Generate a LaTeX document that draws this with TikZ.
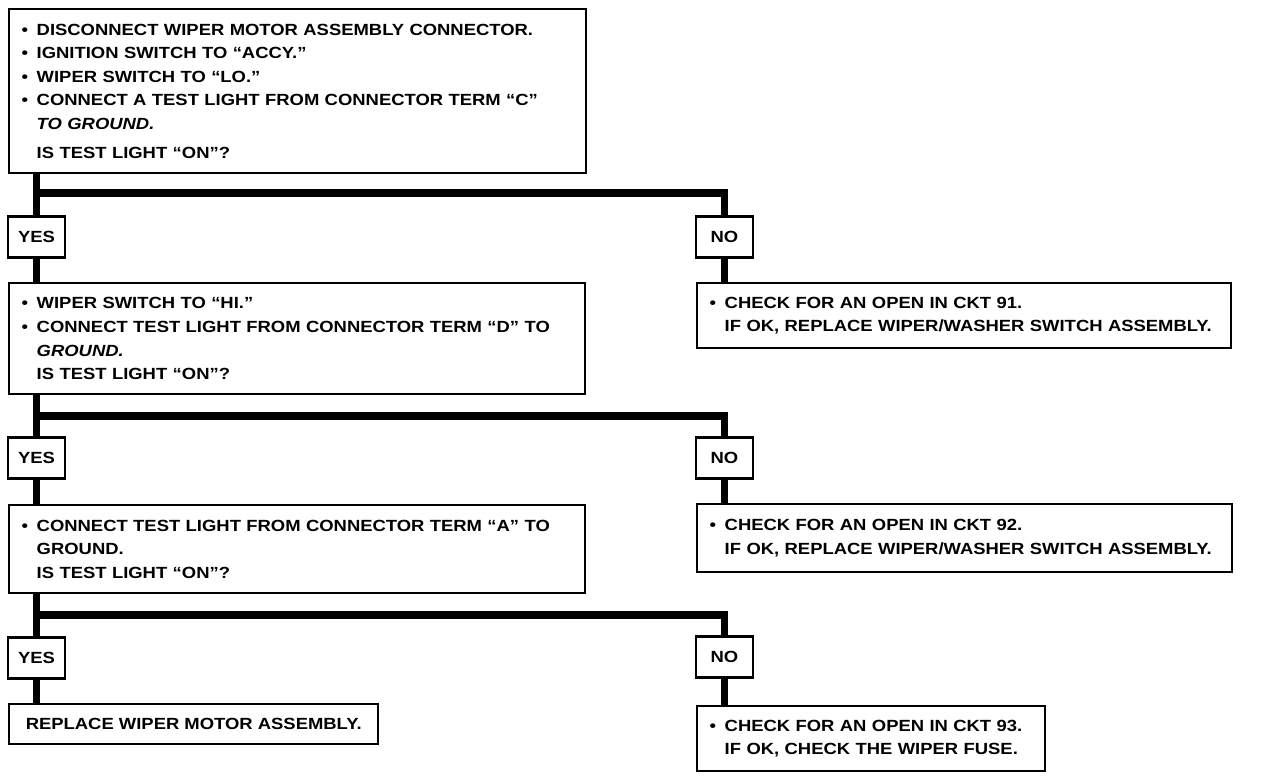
\documentclass[tikz,border=0pt]{standalone}
\usepackage{fontspec}
\setmainfont{Liberation Sans}[FakeStretch=1.14]

\newcommand{\bul}{\makebox[0.3cm][l]{\textbullet}}
\newcommand{\ind}{\hspace*{0.3cm}}

\begin{document}
\begin{tikzpicture}[x=0.2mm,y=-0.2mm,
    every node/.style={font=\fontsize{9.2}{13.4}\selectfont\bfseries},
    qbox/.style={draw,line width=1.4pt,fill=white,anchor=north west,align=left,inner xsep=0.25cm,inner ysep=0pt},
    ans/.style={draw,line width=1.4pt,fill=white,minimum width=1.14cm,minimum height=0.82cm,inner sep=0pt},
    trunk/.style={line width=4.5pt}]

    \useasboundingbox (0,0) rectangle (1264,778);

    \node[qbox,text width=11.04cm,minimum height=3.28cm] (q1) at (8,8)
        {\bul DISCONNECT WIPER MOTOR ASSEMBLY CONNECTOR.\\
         \bul IGNITION SWITCH TO ``ACCY.''\\
         \bul WIPER SWITCH TO ``LO.''\\
         \bul CONNECT A TEST LIGHT FROM CONNECTOR TERM ``C''\\
         \ind\textit{TO GROUND.}\\[3pt]
         \ind IS TEST LIGHT ``ON''?};
    \node[ans] (yes1) at (36.5,237) {YES};
    \node[ans] (no1) at (724.5,237) {NO};
    \node[qbox,text width=11.02cm,minimum height=2.22cm] (q2) at (8,282)
        {\bul WIPER SWITCH TO ``HI.''\\
         \bul CONNECT TEST LIGHT FROM CONNECTOR TERM ``D'' TO\\
         \ind\textit{GROUND.}\\
         \ind IS TEST LIGHT ``ON''?};
    \node[qbox,text width=10.18cm,minimum height=1.3cm] (r1) at (696,282)
        {\bul CHECK FOR AN OPEN IN CKT 91.\\
         \ind IF OK, REPLACE WIPER/WASHER SWITCH ASSEMBLY.};

    \node[ans] (yes2) at (36.5,458) {YES};
    \node[ans] (no2) at (724.5,458) {NO};
    \node[qbox,text width=11.02cm,minimum height=1.76cm] (q3) at (8,504)
        {\bul CONNECT TEST LIGHT FROM CONNECTOR TERM ``A'' TO\\
         \ind GROUND.\\
         \ind IS TEST LIGHT ``ON''?};
    \node[qbox,text width=10.2cm,minimum height=1.36cm] (r2) at (696,503)
        {\bul CHECK FOR AN OPEN IN CKT 92.\\
         \ind IF OK, REPLACE WIPER/WASHER SWITCH ASSEMBLY.};

    \node[ans] (yes3) at (36.5,658) {YES};
    \node[ans] (no3) at (724.5,657) {NO};
    \node[qbox,minimum width=7.38cm,minimum height=0.8cm] (q4) at (8,703)
        {REPLACE WIPER MOTOR ASSEMBLY.};
    \node[qbox,text width=6.46cm,minimum height=1.3cm] (r3) at (696,705)
        {\bul CHECK FOR AN OPEN IN CKT 93.\\
         \ind IF OK, CHECK THE WIPER FUSE.};

    \coordinate (j1) at (36.5,193);
    \coordinate (j2) at (36.5,416);
    \coordinate (j3) at (36.5,615);

    \draw[trunk] (q1.south -| yes1.north) -- (yes1.north);
    \draw[trunk] (j1) -| (no1.north);
    \draw[trunk] (yes1.south) -- (yes1.south |- q2.north);
    \draw[trunk] (no1.south) -- (no1.south |- r1.north);

    \draw[trunk] (q2.south -| yes2.north) -- (yes2.north);
    \draw[trunk] (j2) -| (no2.north);
    \draw[trunk] (yes2.south) -- (yes2.south |- q3.north);
    \draw[trunk] (no2.south) -- (no2.south |- r2.north);

    \draw[trunk] (q3.south -| yes3.north) -- (yes3.north);
    \draw[trunk] (j3) -| (no3.north);
    \draw[trunk] (yes3.south) -- (yes3.south |- q4.north);
    \draw[trunk] (no3.south) -- (no3.south |- r3.north);

\end{tikzpicture}
\end{document}
